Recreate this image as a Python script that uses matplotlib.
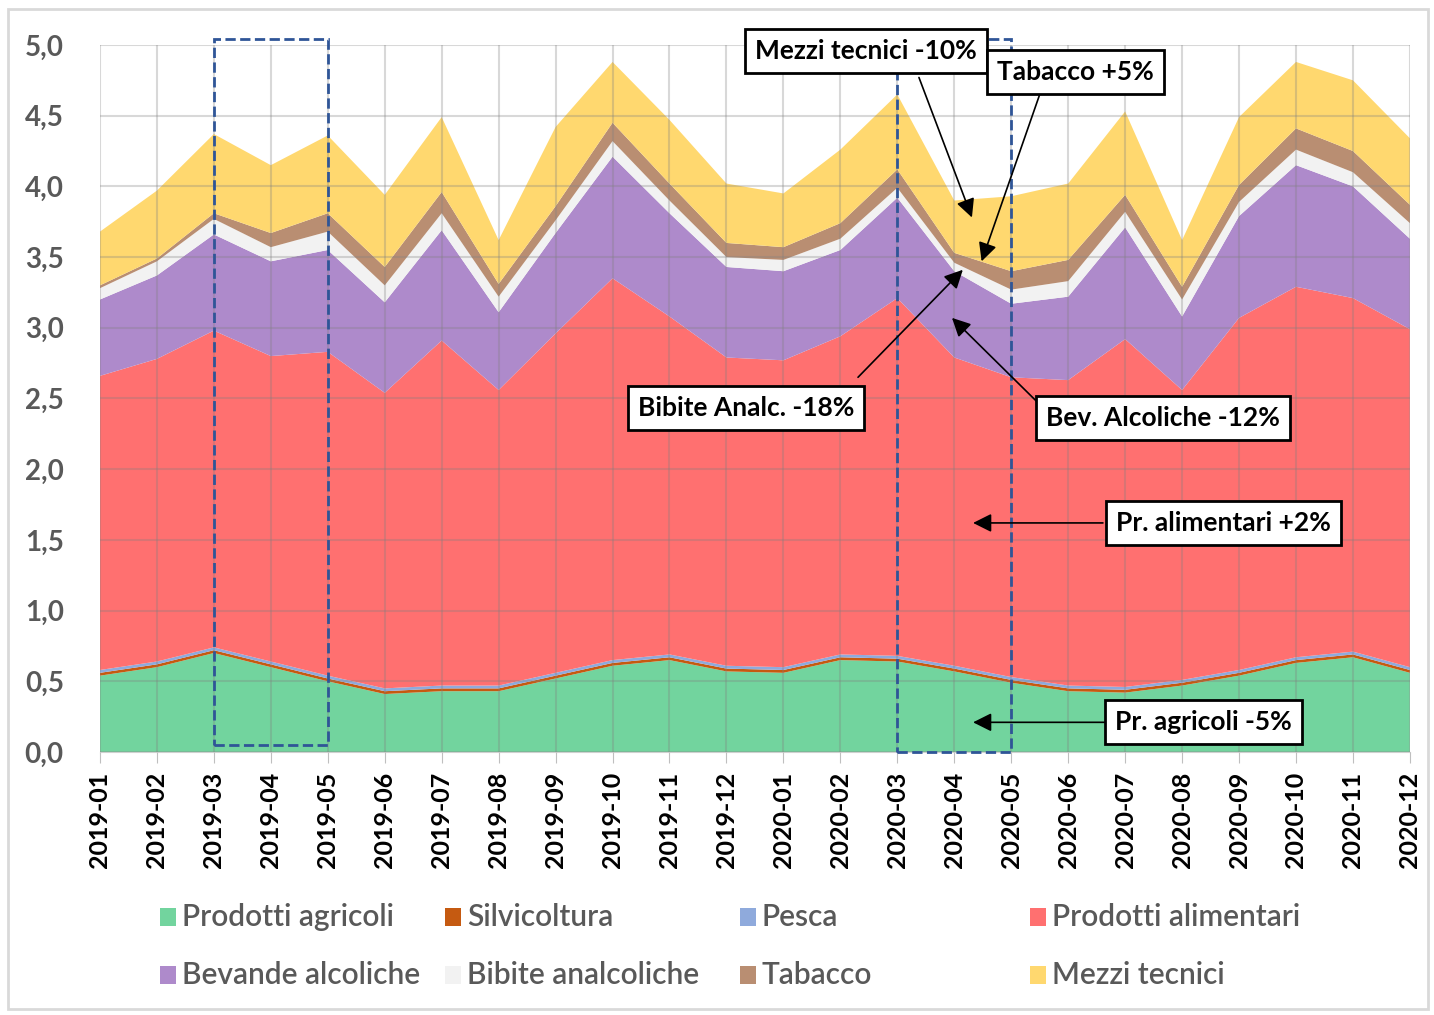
import matplotlib.pyplot as plt
from matplotlib.patches import Rectangle
import numpy as np

plt.rcParams['font.family'] = ['Lato', 'DejaVu Sans']

mesi = ['2019-01', '2019-02', '2019-03', '2019-04', '2019-05', '2019-06',
        '2019-07', '2019-08', '2019-09', '2019-10', '2019-11', '2019-12',
        '2020-01', '2020-02', '2020-03', '2020-04', '2020-05', '2020-06',
        '2020-07', '2020-08', '2020-09', '2020-10', '2020-11', '2020-12']

# miliardi di euro
agricoli = [0.54, 0.60, 0.70, 0.60, 0.50, 0.41, 0.43, 0.43, 0.52, 0.61, 0.65, 0.57,
            0.56, 0.65, 0.64, 0.57, 0.49, 0.43, 0.42, 0.47, 0.54, 0.63, 0.67, 0.56]
silvicoltura = [0.02, 0.02, 0.02, 0.02, 0.02, 0.02, 0.02, 0.02, 0.02, 0.02, 0.02, 0.02,
                0.02, 0.02, 0.02, 0.02, 0.02, 0.02, 0.02, 0.02, 0.02, 0.02, 0.02, 0.02]
pesca = [0.02, 0.02, 0.02, 0.02, 0.02, 0.02, 0.02, 0.02, 0.02, 0.02, 0.02, 0.02,
         0.02, 0.02, 0.02, 0.02, 0.02, 0.02, 0.02, 0.02, 0.02, 0.02, 0.02, 0.02]
alimentari = [2.08, 2.14, 2.24, 2.16, 2.29, 2.09, 2.44, 2.09, 2.40, 2.70, 2.39, 2.18,
              2.17, 2.25, 2.53, 2.18, 2.12, 2.16, 2.46, 2.05, 2.49, 2.62, 2.50, 2.39]
alcoliche = [0.54, 0.59, 0.68, 0.67, 0.72, 0.64, 0.78, 0.55, 0.71, 0.86, 0.73, 0.64,
             0.63, 0.61, 0.71, 0.61, 0.52, 0.59, 0.79, 0.52, 0.72, 0.86, 0.79, 0.64]
analcoliche = [0.08, 0.10, 0.11, 0.10, 0.13, 0.12, 0.12, 0.11, 0.09, 0.11, 0.09, 0.07,
               0.08, 0.08, 0.07, 0.06, 0.10, 0.11, 0.11, 0.12, 0.10, 0.11, 0.10, 0.11]
tabacco = [0.02, 0.02, 0.04, 0.10, 0.13, 0.13, 0.15, 0.09, 0.10, 0.13, 0.12, 0.10,
           0.09, 0.11, 0.13, 0.07, 0.13, 0.15, 0.12, 0.09, 0.12, 0.15, 0.15, 0.13]
mezzi = [0.38, 0.48, 0.56, 0.48, 0.55, 0.51, 0.53, 0.31, 0.56, 0.43, 0.45, 0.42,
         0.38, 0.52, 0.53, 0.37, 0.53, 0.54, 0.59, 0.33, 0.48, 0.47, 0.50, 0.47]

serie = [agricoli, silvicoltura, pesca, alimentari, alcoliche, analcoliche, tabacco, mezzi]
nomi = ['Prodotti agricoli', 'Silvicoltura', 'Pesca', 'Prodotti alimentari',
        'Bevande alcoliche', 'Bibite analcoliche', 'Tabacco', 'Mezzi tecnici']
colori = ['#72D49E', '#C55A11', '#8FAADC', '#FF7070',
          '#AE8ACB', '#F2F2F2', '#B98E72', '#FFD86F']

# etichette: testo, centro del box, coda e punta della freccia
note = [
    ('Mezzi tecnici -10%', (13.45, 4.96), (14.38, 4.77), (15.31, 3.78)),
    ('Tabacco +5%', (17.13, 4.81), (16.50, 4.65), (15.48, 3.47)),
    ('Bibite Analc. -18%', (11.34, 2.43), (13.31, 2.65), (15.15, 3.41)),
    ('Bev. Alcoliche -12%', (18.66, 2.36), (16.47, 2.47), (14.96, 3.07)),
    ('Pr. alimentari +2%', (19.73, 1.62), (17.61, 1.62), (15.33, 1.62)),
    ('Pr. agricoli -5%', (19.38, 0.21), (17.64, 0.21), (15.33, 0.21)),
]

x = np.arange(len(mesi))

fig = plt.figure(figsize=(14.34, 10.15), dpi=100)
ax = fig.add_axes([0.0697, 0.2591, 0.9135, 0.6966])

ax.stackplot(x, *serie, colors=colori, labels=nomi, linewidth=0)

ax.set_xlim(0, len(mesi) - 1)
ax.set_ylim(0, 5)
ax.set_yticks(np.arange(0, 5.01, 0.5))
ax.set_yticklabels([f'{v:.1f}'.replace('.', ',') for v in np.arange(0, 5.01, 0.5)],
                   fontsize=20, fontweight='bold', color='#595959')
ax.set_xticks(x)
ax.set_xticklabels(mesi, rotation=90, fontsize=18, fontweight='bold', color='black')
ax.tick_params(axis='y', length=0, pad=26)
ax.tick_params(axis='x', length=8, color='#bfbfbf', pad=6)
ax.set_axisbelow(False)
ax.grid(True, color='#808080', alpha=0.3, linewidth=1.5)
for s in ['top', 'right', 'left']:
    ax.spines[s].set_visible(False)
ax.spines['bottom'].set_color('#d0d0d0')

# riquadri tratteggiati
ax.add_patch(Rectangle((2, 0.05), 2, 4.99, fill=False, edgecolor='#2F5597',
                       linestyle='--', linewidth=2, clip_on=False, zorder=5))
ax.add_patch(Rectangle((14, 0.0), 2, 5.04, fill=False, edgecolor='#2F5597',
                       linestyle='--', linewidth=2, clip_on=False, zorder=5))

for testo, pos, coda, punta in note:
    ax.annotate('', xy=punta, xytext=coda, zorder=6, annotation_clip=False,
                arrowprops=dict(arrowstyle='-|>', color='black', lw=1.2,
                                mutation_scale=28, shrinkA=0, shrinkB=0))
    ax.text(pos[0], pos[1], testo, ha='center', va='center', fontsize=19,
            fontweight='bold', color='black', zorder=7, clip_on=False,
            bbox=dict(boxstyle='square,pad=0.38', facecolor='white',
                      edgecolor='black', linewidth=2))

# legenda
col_x = [160, 445, 740, 1030]
row_y = [917, 975]
W, H = 1434, 1015
for i, (nome, col) in enumerate(zip(nomi, colori)):
    px = col_x[i % 4]
    py = row_y[i // 4]
    fig.patches.append(Rectangle((px / W, (H - py - 9) / H), 16 / W, 18 / H,
                                 facecolor=col, edgecolor='none',
                                 transform=fig.transFigure, figure=fig))
    fig.text((px + 22) / W, (H - py) / H, nome, fontsize=21.5, color='#595959',
             fontweight='semibold', va='center', ha='left')

fig.patches.append(Rectangle((8 / W, 6 / H), 1420 / W, 1000 / H, fill=False,
                             edgecolor='#d9d9d9', linewidth=2,
                             transform=fig.transFigure, figure=fig))

fig.savefig('out.png', dpi=100)
